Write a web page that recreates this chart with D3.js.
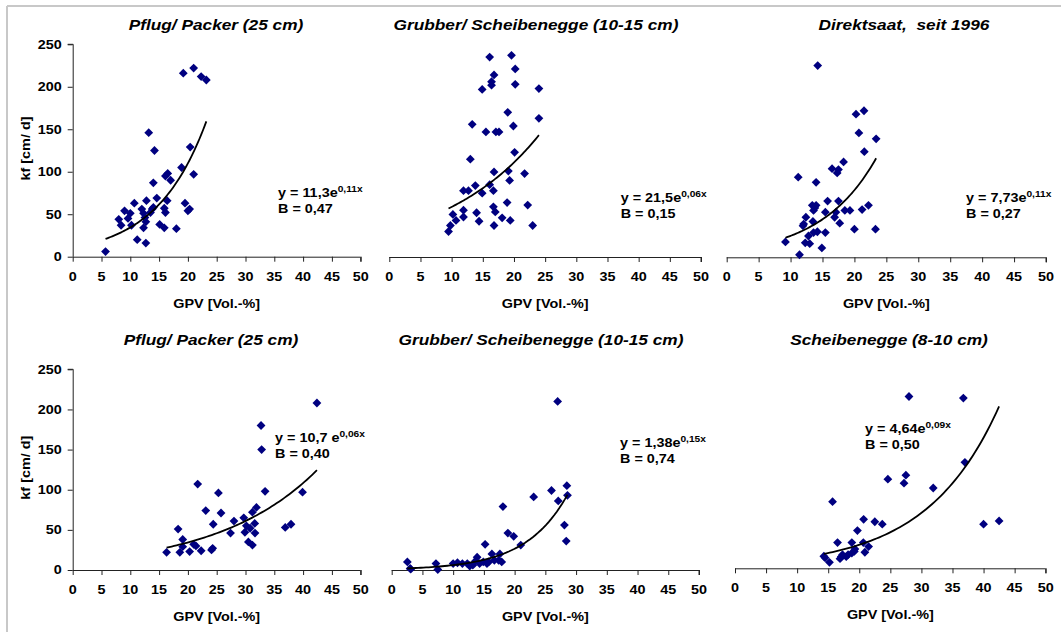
<!DOCTYPE html>
<html>
<head>
<meta charset="utf-8">
<script src="https://cdn.jsdelivr.net/npm/d3@7"></script>
<style>
  body { margin: 0; background: #fff; }
  svg { display: block; font-family: Arial, "Liberation Sans", sans-serif; }
  text { white-space: pre; }
</style>
</head>
<body>
<svg id="chart" width="1061" height="632"></svg>
<script>
'use strict';

// ---- data ----
var titles = [
  "Pflug/ Packer (25 cm)",
  "Grubber/ Scheibenegge (10-15 cm)",
  "Direktsaat,  seit 1996",
  "Pflug/ Packer (25 cm)",
  "Grubber/ Scheibenegge (10-15 cm)",
  "Scheibenegge (8-10 cm)"
];
var eqMain = ["y = 11,3e", "y = 21,5e", "y = 7,73e", "y = 10,7 e", "y = 1,38e", "y = 4,64e"];
var eqSup = ["0,11x", "0,06x", "0,11x", "0,06x", "0,15x", "0,09x"];
var bText = ["B = 0,47", "B = 0,15", "B = 0,27", "B = 0,40", "B = 0,74", "B = 0,50"];
var xTicks = [0, 5, 10, 15, 20, 25, 30, 35, 40, 45, 50];
var yTicks = [0, 50, 100, 150, 200, 250];
var xTitle = "GPV [Vol.-%]";
var yTitle = "kf [cm/ d]";

var pflugTop = [[5.7,6],[8.0,44],[8.4,37],[9.0,54],[9.6,45],[10.0,51],[10.2,37],[10.7,63],[11.2,20],[12.0,56],
  [12.3,34],[12.3,51],[12.55,46],[12.7,41],[12.7,16],[12.8,66],[13.2,146],[13.5,52],[13.8,56],[14.0,87],
  [14.0,58],[14.2,125],[14.6,69],[15.1,38],[15.9,34],[15.9,57],[16.1,52],[16.1,95],[16.5,98],[16.4,66],
  [17.0,90],[18.0,33],[18.9,105],[19.2,216],[19.5,63],[20.0,54],[20.3,56],[20.4,129],[21.0,97],[21.0,222],
  [22.3,212],[23.2,208]];
var grubberTop = [[9.5,30],[9.8,37],[10.2,50],[10.7,43],[11.9,55],[11.9,47],[11.9,78],[12.7,78],[13.0,115],[13.3,156],
  [13.8,84],[14.0,52],[14.4,42],[14.9,197],[14.9,75],[15.5,147],[16.1,235],[16.1,85],[16.4,206],[16.4,202],
  [16.7,78],[16.8,214],[16.8,100],[16.7,59],[17.0,53],[16.8,37],[17.1,147],[17.6,147],[18.1,46],[18.9,64],
  [19.0,170],[19.3,90],[19.1,101],[19.4,43],[19.6,237],[19.9,154],[20.1,123],[20.2,221],[20.2,203],[21.7,98],
  [22.2,61],[23.0,37],[24.0,198],[24.0,163]];
var direktTop = [[9.2,18],[11.2,94],[11.4,3],[11.95,37],[12.05,39],[12.4,47],[12.3,17],[12.8,25],[13.0,16],[13.5,42],
  [13.6,29],[13.6,55],[13.4,61],[14.0,61],[13.8,58],[14.0,88],[14.25,225],[14.2,30],[14.9,11],[15.45,29],
  [15.45,53],[15.8,66],[16.5,104],[16.9,47],[17.1,53],[17.3,99],[17.5,103],[17.5,66],[17.7,40],[18.3,112],
  [18.5,55],[19.3,55],[20.0,33],[20.25,168],[20.7,146],[21.2,56],[21.5,172],[21.55,124],[22.2,61],[23.3,33],
  [23.4,139]];
var pflugBottom = [[16.3,22],[18.3,51],[18.6,22],[19.1,38],[19.1,29],[20.3,23],[21.0,32],[21.4,30],[21.7,107],[22.3,24],
  [23.1,74],[24.1,25],[24.3,27],[24.4,57],[25.3,96],[25.75,71],[27.4,46],[28.0,61],[29.7,65],[29.9,47],
  [30.15,55],[30.5,35],[30.8,52],[31.2,31],[31.2,72],[31.6,58],[31.65,46],[31.9,78],[32.7,180],[32.8,150],
  [33.4,98],[36.9,53],[37.9,57],[39.9,97],[42.4,208]];
var grubberBottom = [[2.55,10],[3.0,2],[3.1,1],[7.2,8],[7.5,0.5],[10.0,8],[10.7,9],[11.5,8],[12.3,8],[12.7,5],
  [13.2,6],[13.6,11],[13.9,16],[14.3,8],[14.9,10],[15.2,32],[15.5,8],[15.8,10],[16.3,20],[16.7,12],
  [17.4,12],[17.6,20],[17.9,10],[18.1,79],[18.9,46],[19.85,42],[21.0,31],[23.1,91],[26.0,99],[27.0,210],
  [27.1,86],[28.1,56],[28.4,36],[28.5,105],[28.6,93]];
var scheibeBottom = [[14.3,15],[14.5,13],[15.2,7.5],[15.7,83],[16.5,32],[16.9,12],[17.1,14.5],[17.3,17],[17.9,14.5],[18.2,17],
  [18.8,19],[18.8,32],[19.2,21],[19.3,24],[19.7,47],[20.65,32],[20.7,61],[20.9,20],[21.5,27],[22.5,58],
  [23.7,55],[24.6,111],[27.2,106],[27.5,116],[28.0,214],[31.9,100],[36.75,212],[37.0,132],[40.0,55],[42.5,59]];

// exponential trend y = a * e^(b x), coefficients matched to the drawn curves
var trendA = [10.8, 31.2, 8.03, 10.9, 1.40, 5.26];
var trendB = [0.116, 0.0635, 0.1142, 0.0574, 0.147, 0.0858];

var series = [pflugTop, grubberTop, direktTop, pflugBottom, grubberBottom, scheibeBottom];

// ---- layout ----
var panels = [
  {x0: 72.7,  x1: 360.7,  y0: 256.7, y1: 44.3,  yAxis: true,  tx: 216, ty: 30,  ex: 278,   ey: 197},
  {x0: 389.3, x1: 701,    y0: 257,   y1: 44.3,  yAxis: false, tx: 536, ty: 30,  ex: 620.7, ey: 201.7},
  {x0: 726.7, x1: 1046,   y0: 257.3, y1: 44.3,  yAxis: false, tx: 904, ty: 30,  ex: 966,   ey: 201.7},
  {x0: 72.7,  x1: 360.7,  y0: 570,   y1: 369.3, yAxis: true,  tx: 211, ty: 345, ex: 275,   ey: 441.7},
  {x0: 391.7, x1: 699,    y0: 570,   y1: 369.3, yAxis: false, tx: 541, ty: 345, ex: 620,   ey: 446.7},
  {x0: 735,   x1: 1045.7, y0: 568.3, y1: 367.6, yAxis: false, tx: 889, ty: 345, ex: 865,   ey: 433}
];
var SX = 1.2; // the reference text is stretched horizontally

var svg = d3.select('#chart');

// light frame on the left and top
svg.append('line').attr('x1', 7).attr('y1', 6).attr('x2', 1061).attr('y2', 6)
  .attr('stroke', '#c8c8c8').attr('stroke-width', 2);
svg.append('line').attr('x1', 7).attr('y1', 6).attr('x2', 7).attr('y2', 632)
  .attr('stroke', '#c8c8c8').attr('stroke-width', 2);

function stretched(g, x, y) {
  return g.append('text').attr('transform', 'translate(' + x + ',' + y + ') scale(' + SX + ',1)');
}

panels.forEach(function(p, i) {
  var data = series[i];
  var x = d3.scaleLinear().domain([0, 50]).range([p.x0, p.x1]);
  var y = d3.scaleLinear().domain([0, 250]).range([p.y0, p.y1]);
  var g = svg.append('g');

  // x axis
  var xAxis = d3.axisBottom(x).tickValues(xTicks).tickSize(5).tickFormat('');
  var xg = g.append('g').attr('transform', 'translate(0,' + p.y0 + ')').call(xAxis);
  xg.select('.domain').attr('d', 'M' + p.x0 + ',0.5H' + p.x1 + 'V5').attr('stroke', '#222');
  xg.selectAll('.tick line').attr('stroke', '#222');
  xTicks.forEach(function(t) {
    stretched(g, x(t), p.y0 + 24).attr('text-anchor', 'middle')
      .attr('font-size', 12).attr('font-weight', 'bold').text(t);
  });
  stretched(g, (p.x0 + p.x1) / 2, p.y0 + 51).attr('text-anchor', 'middle')
    .attr('font-size', 12).attr('font-weight', 'bold').text(xTitle);

  // y axis (left column only)
  if (p.yAxis) {
    var yAxis = d3.axisLeft(y).tickValues(yTicks).tickSize(5).tickFormat('');
    var yg = g.append('g').attr('transform', 'translate(' + p.x0 + ',0)').call(yAxis);
    yg.select('.domain').attr('d', 'M0.5,' + p.y0 + 'V' + p.y1 + 'H-5').attr('stroke', '#222');
    yg.selectAll('.tick line').attr('stroke', '#222');
    yTicks.forEach(function(t) {
      stretched(g, p.x0 - 11, y(t) + 4.3).attr('text-anchor', 'end')
        .attr('font-size', 12).attr('font-weight', 'bold').text(t);
    });
    g.append('text')
      .attr('transform', 'translate(30,' + ((p.y0 + p.y1) / 2 - 2) + ') rotate(-90) scale(' + SX + ',1)')
      .attr('text-anchor', 'middle').attr('font-size', 12).attr('font-weight', 'bold')
      .text(yTitle);
  }

  // title
  stretched(g, p.tx, p.ty).attr('text-anchor', 'middle')
    .attr('font-size', 14.4).attr('font-weight', 'bold').attr('font-style', 'italic')
    .text(titles[i]);

  // points
  g.selectAll('path.pt').data(data).enter().append('path')
    .attr('class', 'pt')
    .attr('d', 'M0,-4.4L4.4,0L0,4.4L-4.4,0Z')
    .attr('fill', '#000080')
    .attr('transform', function(d) { return 'translate(' + x(d[0]) + ',' + y(d[1]) + ')'; });

  // trend line over the data range
  var ext = d3.extent(data, function(d) { return d[0]; });
  var tr = d3.range(0, 61).map(function(k) {
    var v = ext[0] + (ext[1] - ext[0]) * k / 60;
    return [v, trendA[i] * Math.exp(trendB[i] * v)];
  });
  g.append('path').datum(tr)
    .attr('d', d3.line().x(function(d) { return x(d[0]); }).y(function(d) { return y(d[1]); }))
    .attr('fill', 'none').attr('stroke', '#000').attr('stroke-width', 1.8);

  // equation and B
  var eq = stretched(g, p.ex, p.ey).attr('font-size', 12).attr('font-weight', 'bold');
  eq.append('tspan').text(eqMain[i]);
  eq.append('tspan').attr('dy', -5).attr('font-size', 8.5).text(eqSup[i]);
  stretched(g, p.ex, p.ey + 16).attr('font-size', 12).attr('font-weight', 'bold').text(bText[i]);
});
</script>
</body>
</html>
